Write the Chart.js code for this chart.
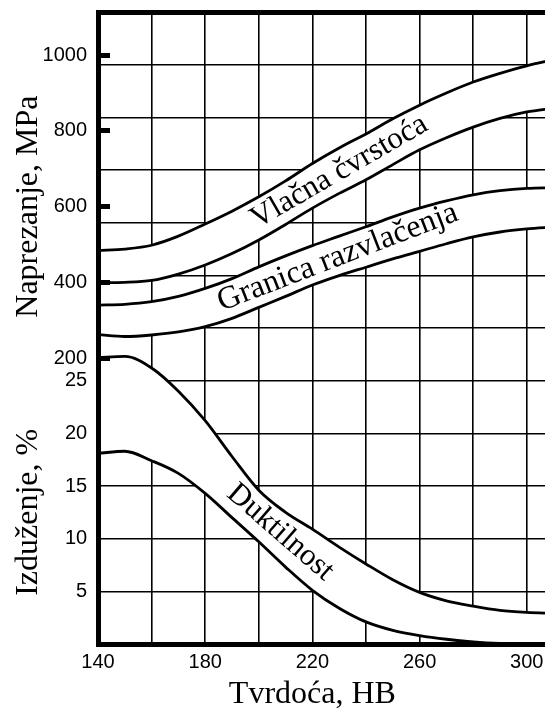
<!DOCTYPE html>
<html>
<head>
<meta charset="utf-8">
<script src="https://cdn.jsdelivr.net/npm/chart.js@4.4.1/dist/chart.umd.min.js"></script>
<style>
    html, body { margin: 0; padding: 0; background: #fff; }
    #wrap { width: 545px; height: 709px; position: relative; overflow: hidden; }
</style>
</head>
<body>
<div id="wrap"><canvas id="hardnessChart"></canvas></div>
<script>
// Brinell hardness (HB) at which the curves were read
const hardness = [140, 150, 160, 170, 180, 190, 200, 210, 220, 230, 240, 250, 260, 270, 280, 290, 300, 310];

// stress, MPa
const tensileHigh = [484, 488, 498, 522, 554, 588, 626, 668, 714, 755, 792, 832, 868, 900, 929, 952, 972, 988];
const tensileLow  = [399, 400, 405, 422, 446, 476, 512, 553, 596, 635, 671, 711, 750, 782, 810, 833, 850, 860];
const yieldHigh   = [340, 342, 349, 363, 384, 410, 441, 470, 497, 522, 547, 573, 596, 615, 631, 642, 648, 650];
const yieldLow    = [262, 257, 261, 269, 283, 305, 334, 363, 393, 418, 440, 462, 482, 502, 520, 533, 541, 546];

// elongation, %
const ductHigh = [27.2, 27.3, 26.2, 24.0, 21.2, 17.8, 14.6, 12.5, 10.9, 9.2, 7.6, 6.1, 4.9, 4.1, 3.6, 3.2, 3.0, 2.9];
const ductLow  = [18.1, 18.3, 17.4, 16.2, 14.3, 12.0, 9.7, 7.3, 5.1, 3.4, 2.1, 1.3, 0.8, 0.45, 0.2, 0.05, 0, 0];

// tick labels
const hardnessLabels = [140, 180, 220, 260, 300];
const stressTicks = [200, 400, 600, 800, 1000];
const elongationLabels = [5, 10, 15, 20, 25];

const bandLabels = [
    { text: 'Vlačna čvrstoća', hb: 230, value: 692, axis: 'yS', angle: -30, size: 31 },
    { text: 'Granica razvlačenja', hb: 229.5, value: 466, axis: 'yS', angle: -21, size: 32 },
    { text: 'Duktilnost', hb: 208, value: 10.6, axis: 'yE', angle: 41, size: 31 }
];

function points(values) {
    return hardness.map((h, i) => ({ x: h, y: values[i] }));
}

function curve(values, axis, fill) {
    return {
        data: points(values),
        yAxisID: axis,
        borderColor: '#000',
        borderWidth: 2.8,
        pointRadius: 0,
        cubicInterpolationMode: 'monotone',
        fill: fill,
        backgroundColor: '#fff'
    };
}

function noPadding(s) {
    s.paddingTop = 0;
    s.paddingBottom = 0;
    s.paddingLeft = 0;
    s.paddingRight = 0;
}

const textPlugin = {
    id: 'textPlugin',
    afterDraw(chart) {
        const ctx = chart.ctx;
        const { x, yS, yE } = chart.scales;
        ctx.save();
        ctx.fillStyle = '#000';
        ctx.textAlign = 'center';

        ctx.textBaseline = 'middle';
        bandLabels.forEach(l => {
            const scale = l.axis === 'yS' ? yS : yE;
            ctx.save();
            ctx.font = l.size + 'px "Liberation Serif"';
            ctx.translate(x.getPixelForValue(l.hb), scale.getPixelForValue(l.value));
            ctx.rotate(l.angle * Math.PI / 180);
            ctx.fillText(l.text, 0, 0);
            ctx.restore();
        });

        // axis titles
        ctx.font = '32px "Liberation Serif"';
        ctx.textBaseline = 'alphabetic';
        ctx.fillText('Tvrdoća, HB', x.getPixelForValue(220), 703);

        ctx.save();
        ctx.translate(37, yS.getPixelForValue(600));
        ctx.rotate(-Math.PI / 2);
        ctx.fillText('Naprezanje, MPa', 0, 0);
        ctx.restore();

        ctx.save();
        ctx.translate(37, yE.getPixelForValue(12.5));
        ctx.rotate(-Math.PI / 2);
        ctx.fillText('Izduženje, %', 0, 0);
        ctx.restore();

        ctx.restore();
    }
};

const tickFont = { family: '"Liberation Sans"', size: 20 };

new Chart(document.getElementById('hardnessChart').getContext('2d'), {
    type: 'line',
    data: {
        datasets: [
            curve(tensileHigh, 'yS', '+1'),
            curve(tensileLow, 'yS', false),
            curve(yieldHigh, 'yS', '+1'),
            curve(yieldLow, 'yS', false),
            curve(ductHigh, 'yE', '+1'),
            curve(ductLow, 'yE', false)
        ]
    },
    options: {
        responsive: true,
        maintainAspectRatio: false,
        animation: false,
        layout: { padding: { top: 12, left: 0, right: 0, bottom: 0 } },
        plugins: {
            legend: { display: false },
            tooltip: { enabled: false },
            filler: { drawTime: 'beforeDatasetsDraw' }
        },
        scales: {
            x: {
                type: 'linear',
                min: 140,
                max: 306.8,
                afterFit: s => { s.height = 65; noPadding(s); },
                grid: { color: '#000', lineWidth: 1.6, drawTicks: false },
                border: { display: true, color: '#000', width: 5, z: 1 },
                ticks: {
                    stepSize: 20,
                    includeBounds: false,
                    padding: 6,
                    color: '#000',
                    font: tickFont,
                    maxRotation: 0,
                    autoSkip: false,
                    callback: v => hardnessLabels.includes(v) ? String(v) : ''
                }
            },
            yS: {
                type: 'linear',
                position: 'left',
                weight: 1,
                min: -555,
                max: 1114,
                afterFit: s => { s.width = 98; noPadding(s); },
                afterBuildTicks: s => { s.ticks = stressTicks.map(v => ({ value: v })); },
                grid: {
                    drawOnChartArea: false,
                    drawTicks: true,
                    tickLength: -12,
                    tickWidth: 5,
                    tickColor: '#000',
                    z: 1
                },
                border: { display: false },
                ticks: {
                    padding: 23,
                    color: '#000',
                    font: tickFont,
                    autoSkip: false,
                    callback: v => String(v)
                }
            },
            yE: {
                type: 'linear',
                position: 'left',
                weight: 0,
                min: 0,
                max: 60,
                afterFit: s => { s.width = 0; noPadding(s); },
                grid: {
                    color: '#000',
                    lineWidth: c => c.tick && c.tick.value === 60 ? 5 : 1.6,
                    drawTicks: false
                },
                border: { display: true, color: '#000', width: 5, z: 1 },
                ticks: {
                    stepSize: 5,
                    mirror: true,
                    crossAlign: 'far',
                    padding: -33,
                    color: '#000',
                    font: tickFont,
                    autoSkip: false,
                    callback: v => elongationLabels.includes(v) ? String(v) : ''
                }
            }
        }
    },
    plugins: [textPlugin]
});
</script>
</body>
</html>
